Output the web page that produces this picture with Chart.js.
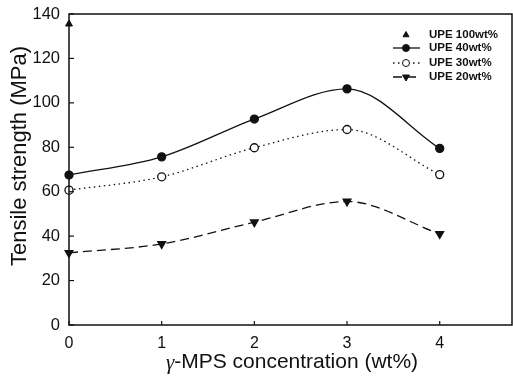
<!DOCTYPE html>
<html><head><meta charset="utf-8">
<script src="https://cdn.jsdelivr.net/npm/chart.js@4/dist/chart.umd.min.js"></script>
<style>html,body{margin:0;padding:0;background:#fff}#wrap{width:513px;height:383px;position:relative}</style>
</head><body><div id="wrap"><canvas id="c" width="513" height="383"></canvas></div>
<script>
const concentrations = [0, 1, 2, 3, 4];
const upe40 = [67.5, 75.7, 92.7, 106.3, 79.5];
const upe30 = [60.7, 66.7, 79.8, 88.0, 67.7];
const upe20 = [32.5, 36.5, 46.3, 55.6, 41.0];
const upe100X = [0];
const upe100 = [135.5];
const yTicks = [0, 20, 40, 60, 80, 100, 120, 140];
const xTicks = [0, 1, 2, 3, 4];
const seriesNames = ['UPE 100wt%', 'UPE 40wt%', 'UPE 30wt%', 'UPE 20wt%'];
const xTitleItalic = 'γ';
const xTitleRest = '-MPS concentration (wt%)';
const yTitle = 'Tensile strength (MPa)';

const pts = (xs, ys) => xs.map((x, i) => ({x, y: ys[i]}));

const frame = {
  id: 'frame',
  afterDatasetsDraw(chart) {
    const {ctx, chartArea: a, scales} = chart;
    ctx.save();
    ctx.strokeStyle = '#111'; ctx.lineWidth = 1.5;
    ctx.strokeRect(a.left, a.top, a.right - a.left, a.bottom - a.top);
    ctx.lineWidth = 1.2;
    yTicks.forEach(v => { const y = scales.y.getPixelForValue(v); ctx.beginPath(); ctx.moveTo(a.left, y); ctx.lineTo(a.left + 5, y); ctx.stroke(); });
    xTicks.forEach(v => { const x = scales.x.getPixelForValue(v); ctx.beginPath(); ctx.moveTo(x, a.bottom); ctx.lineTo(x, a.bottom - 4); ctx.stroke(); });
    // x title with italic gamma
    const f1 = "italic 21px 'Liberation Serif', serif";
    const f2 = "21px 'Liberation Sans', Arial, sans-serif";
    ctx.textBaseline = 'middle'; ctx.fillStyle = '#111';
    ctx.font = f1; const w1 = ctx.measureText(xTitleItalic).width;
    ctx.font = f2; const w2 = ctx.measureText(xTitleRest).width;
    const cx0 = 292 - (w1 + w2) / 2;
    ctx.font = f1; ctx.textAlign = 'left'; ctx.fillText(xTitleItalic, cx0, 363);
    ctx.font = f2; ctx.fillText(xTitleRest, cx0 + w1, 362);
    // y title
    ctx.save();
    ctx.translate(20, 156); ctx.rotate(-Math.PI / 2);
    ctx.textAlign = 'center';
    ctx.font = "22px 'Liberation Sans', Arial, sans-serif";
    ctx.fillText(yTitle, 0, 0);
    ctx.restore();
    // legend
    const ys = [35, 48, 63, 77];
    ctx.textBaseline = 'middle'; ctx.textAlign = 'left';
    chart.data.datasets.forEach((ds, i) => {
      const y = ys[i], cx = 406;
      ctx.strokeStyle = '#111';
      if (ds.showLine !== false) {
        ctx.save(); ctx.setLineDash(ds.borderDash || []); ctx.lineWidth = ds.borderWidth;
        ctx.beginPath(); ctx.moveTo(393, y); ctx.lineTo(420, y); ctx.stroke(); ctx.restore();
      }
      ctx.save();
      ctx.fillStyle = ds.pointBackgroundColor; ctx.strokeStyle = '#111'; ctx.lineWidth = 1;
      Chart.helpers.drawPoint(ctx, {pointStyle: ds.pointStyle, radius: ds.pointRadius - 0.5, rotation: ds.pointRotation || 0, borderWidth: 1}, cx, y);
      ctx.restore();
      ctx.fillStyle = '#111';
      ctx.font = "bold 11.5px 'Liberation Sans Narrow', 'Liberation Sans', sans-serif";
      ctx.fillText(ds.label, 429, y);
    });
    ctx.restore();
  }
};

new Chart(document.getElementById('c'), {
  type: 'scatter',
  data: {
    datasets: [
      {label: seriesNames[0], data: pts(upe100X, upe100), showLine: false, pointStyle: 'triangle', pointRadius: 4, pointBackgroundColor: '#111', pointBorderColor: '#111', borderColor: '#111', borderWidth: 1},
      {label: seriesNames[1], data: pts(concentrations, upe40), showLine: true, cubicInterpolationMode: 'monotone', borderColor: '#111', borderWidth: 1.3, pointStyle: 'circle', pointRadius: 4, pointBackgroundColor: '#111', pointBorderColor: '#111'},
      {label: seriesNames[2], data: pts(concentrations, upe30), showLine: true, cubicInterpolationMode: 'monotone', borderColor: '#111', borderWidth: 1.3, borderDash: [1.5, 3.5], pointStyle: 'circle', pointRadius: 4, pointBackgroundColor: '#fff', pointBorderColor: '#111'},
      {label: seriesNames[3], data: pts(concentrations, upe20), showLine: true, cubicInterpolationMode: 'monotone', borderColor: '#111', borderWidth: 1.3, borderDash: [9, 5], pointStyle: 'triangle', pointRotation: 180, pointRadius: 4.5, pointBackgroundColor: '#111', pointBorderColor: '#111'}
    ]
  },
  options: {
    responsive: false, animation: false, devicePixelRatio: 1,
    clip: false,
    layout: {autoPadding: false, padding: {top: 14, right: 1, left: 0, bottom: 0}},
    plugins: {legend: {display: false}, tooltip: {enabled: false}},
    scales: {
      x: {
        type: 'linear', min: 0, max: 4.78,
        afterFit: s => { s.height = 58; s.paddingLeft = 0; s.paddingRight = 0; },
        afterBuildTicks: s => { s.ticks = xTicks.map(v => ({value: v})); },
        grid: {display: false, drawTicks: false},
        border: {display: false},
        ticks: {padding: 9, color: '#111', font: {family: "'Liberation Sans', Arial, sans-serif", size: 16}},
        title: {display: false}
      },
      y: {
        min: 0, max: 140,
        afterFit: s => { s.width = 69; s.paddingTop = 0; s.paddingBottom = 0; },
        afterBuildTicks: s => { s.ticks = yTicks.map(v => ({value: v})); },
        grid: {display: false, drawTicks: false},
        border: {display: false},
        ticks: {padding: 9, color: '#111', font: {family: "'Liberation Sans', Arial, sans-serif", size: 16.5}},
        title: {display: false}
      }
    }
  },
  plugins: [frame]
});
</script></body></html>
